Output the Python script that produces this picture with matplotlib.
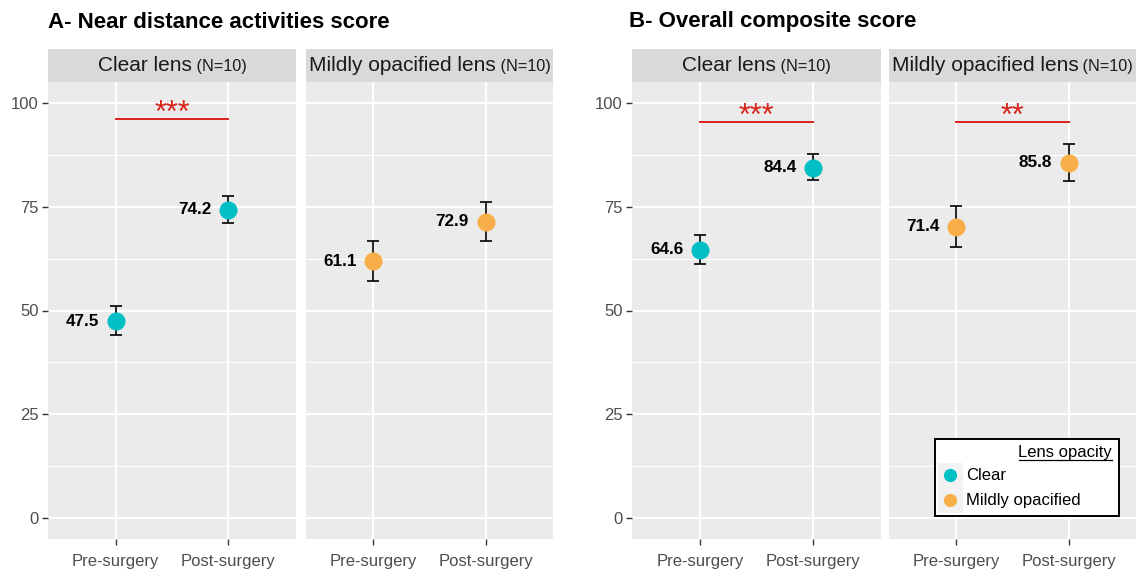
import matplotlib
matplotlib.use('Agg')
import matplotlib.pyplot as plt
from matplotlib.patches import Rectangle
from matplotlib.offsetbox import TextArea, HPacker, AnchoredOffsetbox

plt.rcParams['font.family'] = ['Liberation Sans', 'DejaVu Sans']

# ---------------- data ----------------
timepoints = ['Pre-surgery', 'Post-surgery']
groups = ['Clear', 'Mildly opacified']
facet_titles = ['Clear lens', 'Mildly opacified lens']
facet_n = ['(N=10)', '(N=10)']
panel_titles = ['A- Near distance activities score', 'B- Overall composite score']

# Panel A: near distance activities score
a_clear_mean = [47.4, 74.2]
a_clear_lo = [44.1, 71.1]
a_clear_hi = [51.1, 77.6]
a_clear_label = [47.5, 74.2]
a_mild_mean = [61.9, 71.4]
a_mild_lo = [57.1, 66.8]
a_mild_hi = [66.7, 76.0]
a_mild_label = [61.1, 72.9]

# Panel B: overall composite score
b_clear_mean = [64.6, 84.4]
b_clear_lo = [61.2, 81.3]
b_clear_hi = [68.1, 87.6]
b_clear_label = [64.6, 84.4]
b_mild_mean = [70.1, 85.6]
b_mild_lo = [65.2, 81.1]
b_mild_hi = [75.2, 90.1]
b_mild_label = [71.4, 85.8]

# significance bars (y, stars) per facet; None = no bar
a_sig = [(96.2, '***'), None]
b_sig = [(95.4, '***'), (95.4, '**')]

y_ticks = [0, 25, 50, 75, 100]
y_minor = [12.5, 37.5, 62.5, 87.5]

colors = {'Clear': '#00BFC4', 'Mildly opacified': '#F8AF4A'}

# ---------------- layout ----------------
W, H = 1137, 571
fig = plt.figure(figsize=(W / 100, H / 100), dpi=100)


def rect(x0, y0, x1, y1):
    return [x0 / W, 1 - y1 / H, (x1 - x0) / W, (y1 - y0) / H]


panel_top, panel_bot = 82, 539
strip_top = 49
panel_x = [[(48, 296), (306, 553)], [(632, 881), (889, 1136)]]
title_x = [48, 629]

data = [
    [(a_clear_mean, a_clear_lo, a_clear_hi, a_clear_label, 'Clear'),
     (a_mild_mean, a_mild_lo, a_mild_hi, a_mild_label, 'Mildly opacified')],
    [(b_clear_mean, b_clear_lo, b_clear_hi, b_clear_label, 'Clear'),
     (b_mild_mean, b_mild_lo, b_mild_hi, b_mild_label, 'Mildly opacified')],
]
sigs = [a_sig, b_sig]

tick_color = '#333333'
label_color = '#4D4D4D'
sig_color = '#D8231A'

for p in range(2):
    fig.text(title_x[p] / W, 1 - 22 / H, panel_titles[p], fontsize=16,
             fontweight='bold', ha='left', va='center', color='black')
    for f in range(2):
        x0, x1 = panel_x[p][f]
        ax = fig.add_axes(rect(x0, panel_top, x1, panel_bot))
        ax.set_facecolor('#EBEBEB')
        for s in ax.spines.values():
            s.set_visible(False)
        xs = list(range(1, len(timepoints) + 1))
        ax.set_xlim(0.4, 2.6)
        ax.set_ylim(-5, 105)
        ax.set_yticks(y_ticks)
        ax.set_yticks(y_minor, minor=True)
        ax.set_xticks(xs)
        ax.set_xticklabels(timepoints)
        ax.grid(True, which='major', color='white', lw=1.5)
        ax.grid(True, which='minor', axis='y', color='white', lw=0.75)
        ax.set_axisbelow(True)
        ax.tick_params(axis='both', which='major', length=4, width=1,
                       color=tick_color, labelsize=12, labelcolor=label_color, pad=2.5)
        ax.tick_params(axis='both', which='minor', length=0)
        ax.tick_params(axis='x', pad=6.5)
        if f == 1:
            ax.tick_params(axis='y', labelleft=False, length=0)

        mean, lo, hi, lab, grp = data[p][f]
        err = [[m - l for m, l in zip(mean, lo)], [h - m for m, h in zip(mean, hi)]]
        ax.errorbar(xs, mean, yerr=err, fmt='none', ecolor='black',
                    elinewidth=1.2, capsize=4.3, capthick=1.2, zorder=3)
        ax.plot(xs, mean, 'o', color=colors[grp], ms=13, mec='none', zorder=4)
        for xi, yi, lv in zip(xs, mean, lab):
            ax.annotate(f'{lv:.1f}', (xi, yi), xytext=(-12, 0),
                        textcoords='offset points', ha='right', va='center',
                        fontsize=12.3, fontweight='bold', color='black', zorder=5)

        sg = sigs[p][f]
        if sg is not None:
            yl, stars = sg
            ax.plot([xs[0], xs[1]], [yl, yl], color=sig_color, lw=1.4, zorder=3)
            ax.annotate(stars, ((xs[0] + xs[1]) / 2, yl), xytext=(0, -2.3),
                        textcoords='offset points', ha='center', va='baseline',
                        fontsize=22, color=sig_color, zorder=5)

        # strip
        sax = fig.add_axes(rect(x0, strip_top, x1, panel_top))
        sax.set_facecolor('#D9D9D9')
        sax.set_xticks([])
        sax.set_yticks([])
        for s in sax.spines.values():
            s.set_visible(False)
        box = HPacker(children=[
            TextArea(facet_titles[f], textprops=dict(size=15, color='#1A1A1A')),
            TextArea(' ' + facet_n[f], textprops=dict(size=11.7, color='#1A1A1A'))],
            align='baseline', pad=0, sep=0)
        anch = AnchoredOffsetbox(loc='center', child=box, pad=0, frameon=False,
                                 bbox_to_anchor=(0.5, 0.5), bbox_transform=sax.transAxes,
                                 borderpad=0)
        sax.add_artist(anch)

# ---------------- legend (drawn in pixel overlay) ----------------
ov = fig.add_axes([0, 0, 1, 1], zorder=10)
ov.set_xlim(0, W)
ov.set_ylim(H, 0)
ov.axis('off')
ov.add_patch(Rectangle((935, 439), 184, 77, facecolor='white', edgecolor='black', lw=1.4))
ov.text(1112, 452, 'Lens opacity', ha='right', va='center', fontsize=12, color='black')
ov.plot([1019, 1112], [459.5, 459.5], color='black', lw=0.9)
key_y = [475, 500]
for g, ky in zip(groups, key_y):
    ov.add_patch(Rectangle((937.5, ky - 12.5), 25, 25, facecolor='#F2F2F2', edgecolor='none'))
    ov.plot([950], [ky], 'o', color=colors[g], ms=9.5, mec='none')
    ov.text(966, ky, g, ha='left', va='center', fontsize=12, color='black')

fig.savefig('out.png', dpi=100)
